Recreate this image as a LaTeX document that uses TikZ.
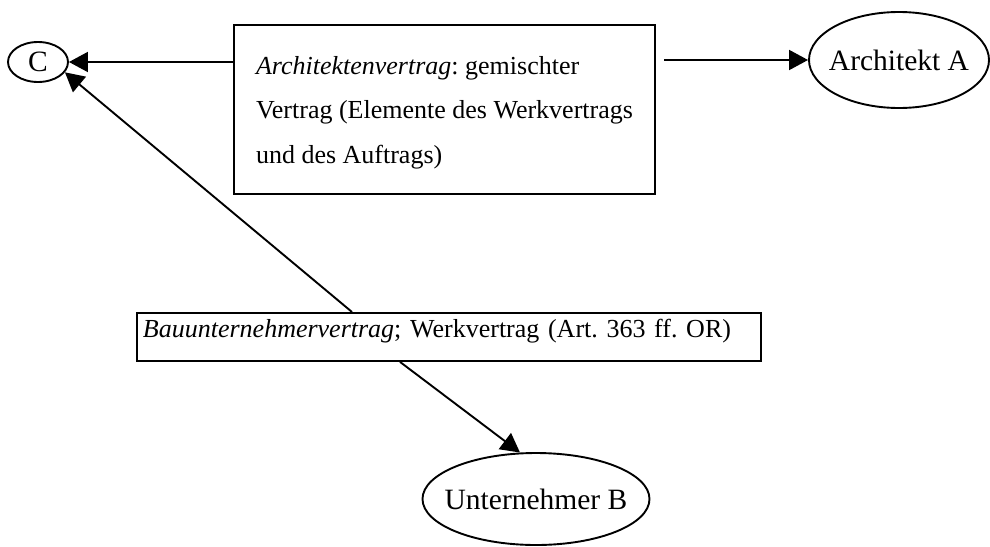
\documentclass[tikz,border=0pt]{standalone}
\usepackage{fontspec}
\setmainfont{Liberation Serif}
\usetikzlibrary{shapes.geometric,arrows.meta}
\frenchspacing

\tikzset{
  party/.style={draw, ellipse, line width=1.9pt, inner sep=0pt,
    font=\fontsize{29.5pt}{34pt}\selectfont},
  contract/.style={draw, rectangle, line width=1.9pt, anchor=north west,
    font=\fontsize{26pt}{44.5pt}\selectfont},
  conn/.style={line width=1.9pt, -{Triangle[length=19pt,width=20pt]}},
}

\begin{document}
\begin{tikzpicture}[x=1pt, y=-1pt]
  \useasboundingbox (0,0) rectangle (990,546);

  % parties
  \node[party, minimum width=60pt, minimum height=40pt] (C) at (38,62) {\makebox[0pt]{C}};
  \node[party, minimum width=180pt, minimum height=96pt] (archA) at (899,60) {\makebox[0pt]{Architekt A}};
  \node[party, minimum width=227pt, minimum height=92pt] (ub) at (536,499) {\makebox[0pt]{Unternehmer B}};

  % contracts
  \node[contract, align=left, inner xsep=19pt, inner ysep=0pt,
        minimum width=421pt, minimum height=169pt] (box1) at (233,24)
    {\rule{0pt}{24pt}\textit{Architektenvertrag}: gemischter\\
     Vertrag (Elemente des Werkvertrags\\
     und des Auftrags)};
  \node[contract, align=left, inner xsep=6pt, inner ysep=3pt,
        text width=612pt, text height=18pt, text depth=16pt,
        minimum height=48pt] (box2) at (136,312)
    {\textit{Bauunternehmervertrag}; Werkvertrag (Art. 363 ff. OR)};

  % connectors
  \coordinate (archFrom) at (664,60);
  \draw[conn] (box1.west |- C) -- (C);
  \draw[conn] (archFrom) -- (archA);
  \draw[conn] ([xshift=216pt]box2.north west) -- (C.-21);
  \draw[conn] ([xshift=264pt]box2.south west) -- (ub.109);
\end{tikzpicture}
\end{document}
